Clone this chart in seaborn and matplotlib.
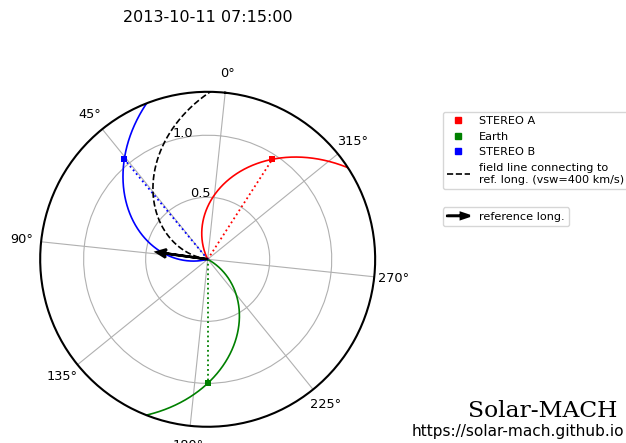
import matplotlib
matplotlib.use("Agg")
import matplotlib.pyplot as plt
import matplotlib.patches as mpatches
from matplotlib.legend_handler import HandlerPatch
from matplotlib.lines import Line2D
import numpy as np
import pandas as pd
import seaborn as sns

# observation time and spacecraft positions (Carrington longitude in deg, distance in AU)
date_str = "2013-10-11 07:15:00"
body_names = ["STEREO A", "Earth", "STEREO B"]
body_colors = ["red", "green", "blue"]
body_long = [333.1, 186.0, 45.8]
body_dist = [0.96, 1.0, 1.05]
body_vsw = [400, 400, 400]

# reference longitude and its solar wind speed
reference_long = 88.0
reference_vsw = 400
r_ticks = [0.5, 1.0]

AU = 1.495978707e8  # km
omega = 2 * np.pi / (25.38 * 24 * 60 * 60)  # rad/s, solar rotation


def legend_arrow(legend, orig_handle, xdescent, ydescent, width, height, fontsize):
    return mpatches.FancyArrow(0, 0.5 * height, width, 0, length_includes_head=True,
                               head_width=0.75 * height, color="black")


fig = plt.figure(figsize=(6.26, 4.43), dpi=100)
ax = fig.add_axes([0.0642, 0.0366, 0.5351, 0.7562], projection="polar")

max_dist = max(body_dist)
r_array = np.arange(0.0, max_dist + 0.8, 0.002)

legend_handles = []
for name, color, lon, dist, vsw in zip(body_names, body_colors, body_long, body_dist, body_vsw):
    spiral = pd.DataFrame({
        "theta": np.deg2rad(lon) + omega * (dist - r_array) * AU / vsw,
        "r": r_array,
    })
    sns.lineplot(data=spiral, x="theta", y="r", sort=False, estimator=None,
                 color=color, lw=1.2, ax=ax)
    ax.plot([np.deg2rad(lon), np.deg2rad(lon)], [0, dist], ls=":", color=color, lw=1.3)
    sns.scatterplot(x=[np.deg2rad(lon)], y=[dist], marker="s", s=22, color=color,
                    edgecolor=color, linewidth=0, zorder=6, ax=ax)
    legend_handles.append(Line2D([], [], ls="", marker="s", ms=4.5, color=color, label=name))

ref_line = pd.DataFrame({
    "theta": np.deg2rad(reference_long) - omega * r_array * AU / reference_vsw,
    "r": r_array,
})
sns.lineplot(data=ref_line, x="theta", y="r", sort=False, estimator=None,
             color="black", ls="--", lw=1.2, ax=ax)
legend_handles.append(Line2D([], [], ls="--", color="black", lw=1.2,
                             label="field line connecting to\nref. long. (vsw=%d km/s)" % reference_vsw))

arrow = ax.arrow(np.deg2rad(reference_long), 0.01, 0, 0.33, head_width=0.2, head_length=0.075,
                 edgecolor="black", facecolor="black", lw=1.8, zorder=5, overhang=0.2)

ax.set_theta_offset(np.deg2rad(270 - body_long[body_names.index("Earth")]))
ax.set_rmax(max_dist + 0.3)
ax.set_rmin(0)
ax.set_rticks(r_ticks)
ax.set_xlabel("")
ax.set_ylabel("")
ax.tick_params(labelsize=9.3)
ax.spines["polar"].set_linewidth(1.5)

fig.legend(handles=legend_handles, loc="upper left", bbox_to_anchor=(0.7072, 0.748),
           borderaxespad=0, fontsize=8.1)
fig.legend([arrow], ["reference long."], loc="upper left", bbox_to_anchor=(0.7072, 0.532),
           borderaxespad=0, fontsize=8.1,
           handler_map={mpatches.FancyArrow: HandlerPatch(patch_func=legend_arrow)})

fig.text(0.3318, 0.961, date_str, ha="center", va="center", fontsize=11.5)
fig.text(0.987, 0.0594, "Solar-MACH", ha="right", va="baseline", fontsize=16.8, family="DejaVu Serif")
fig.text(0.997, 0.015, "https://solar-mach.github.io", ha="right", va="baseline", fontsize=11.1)

fig.savefig("out.png", dpi=100)
